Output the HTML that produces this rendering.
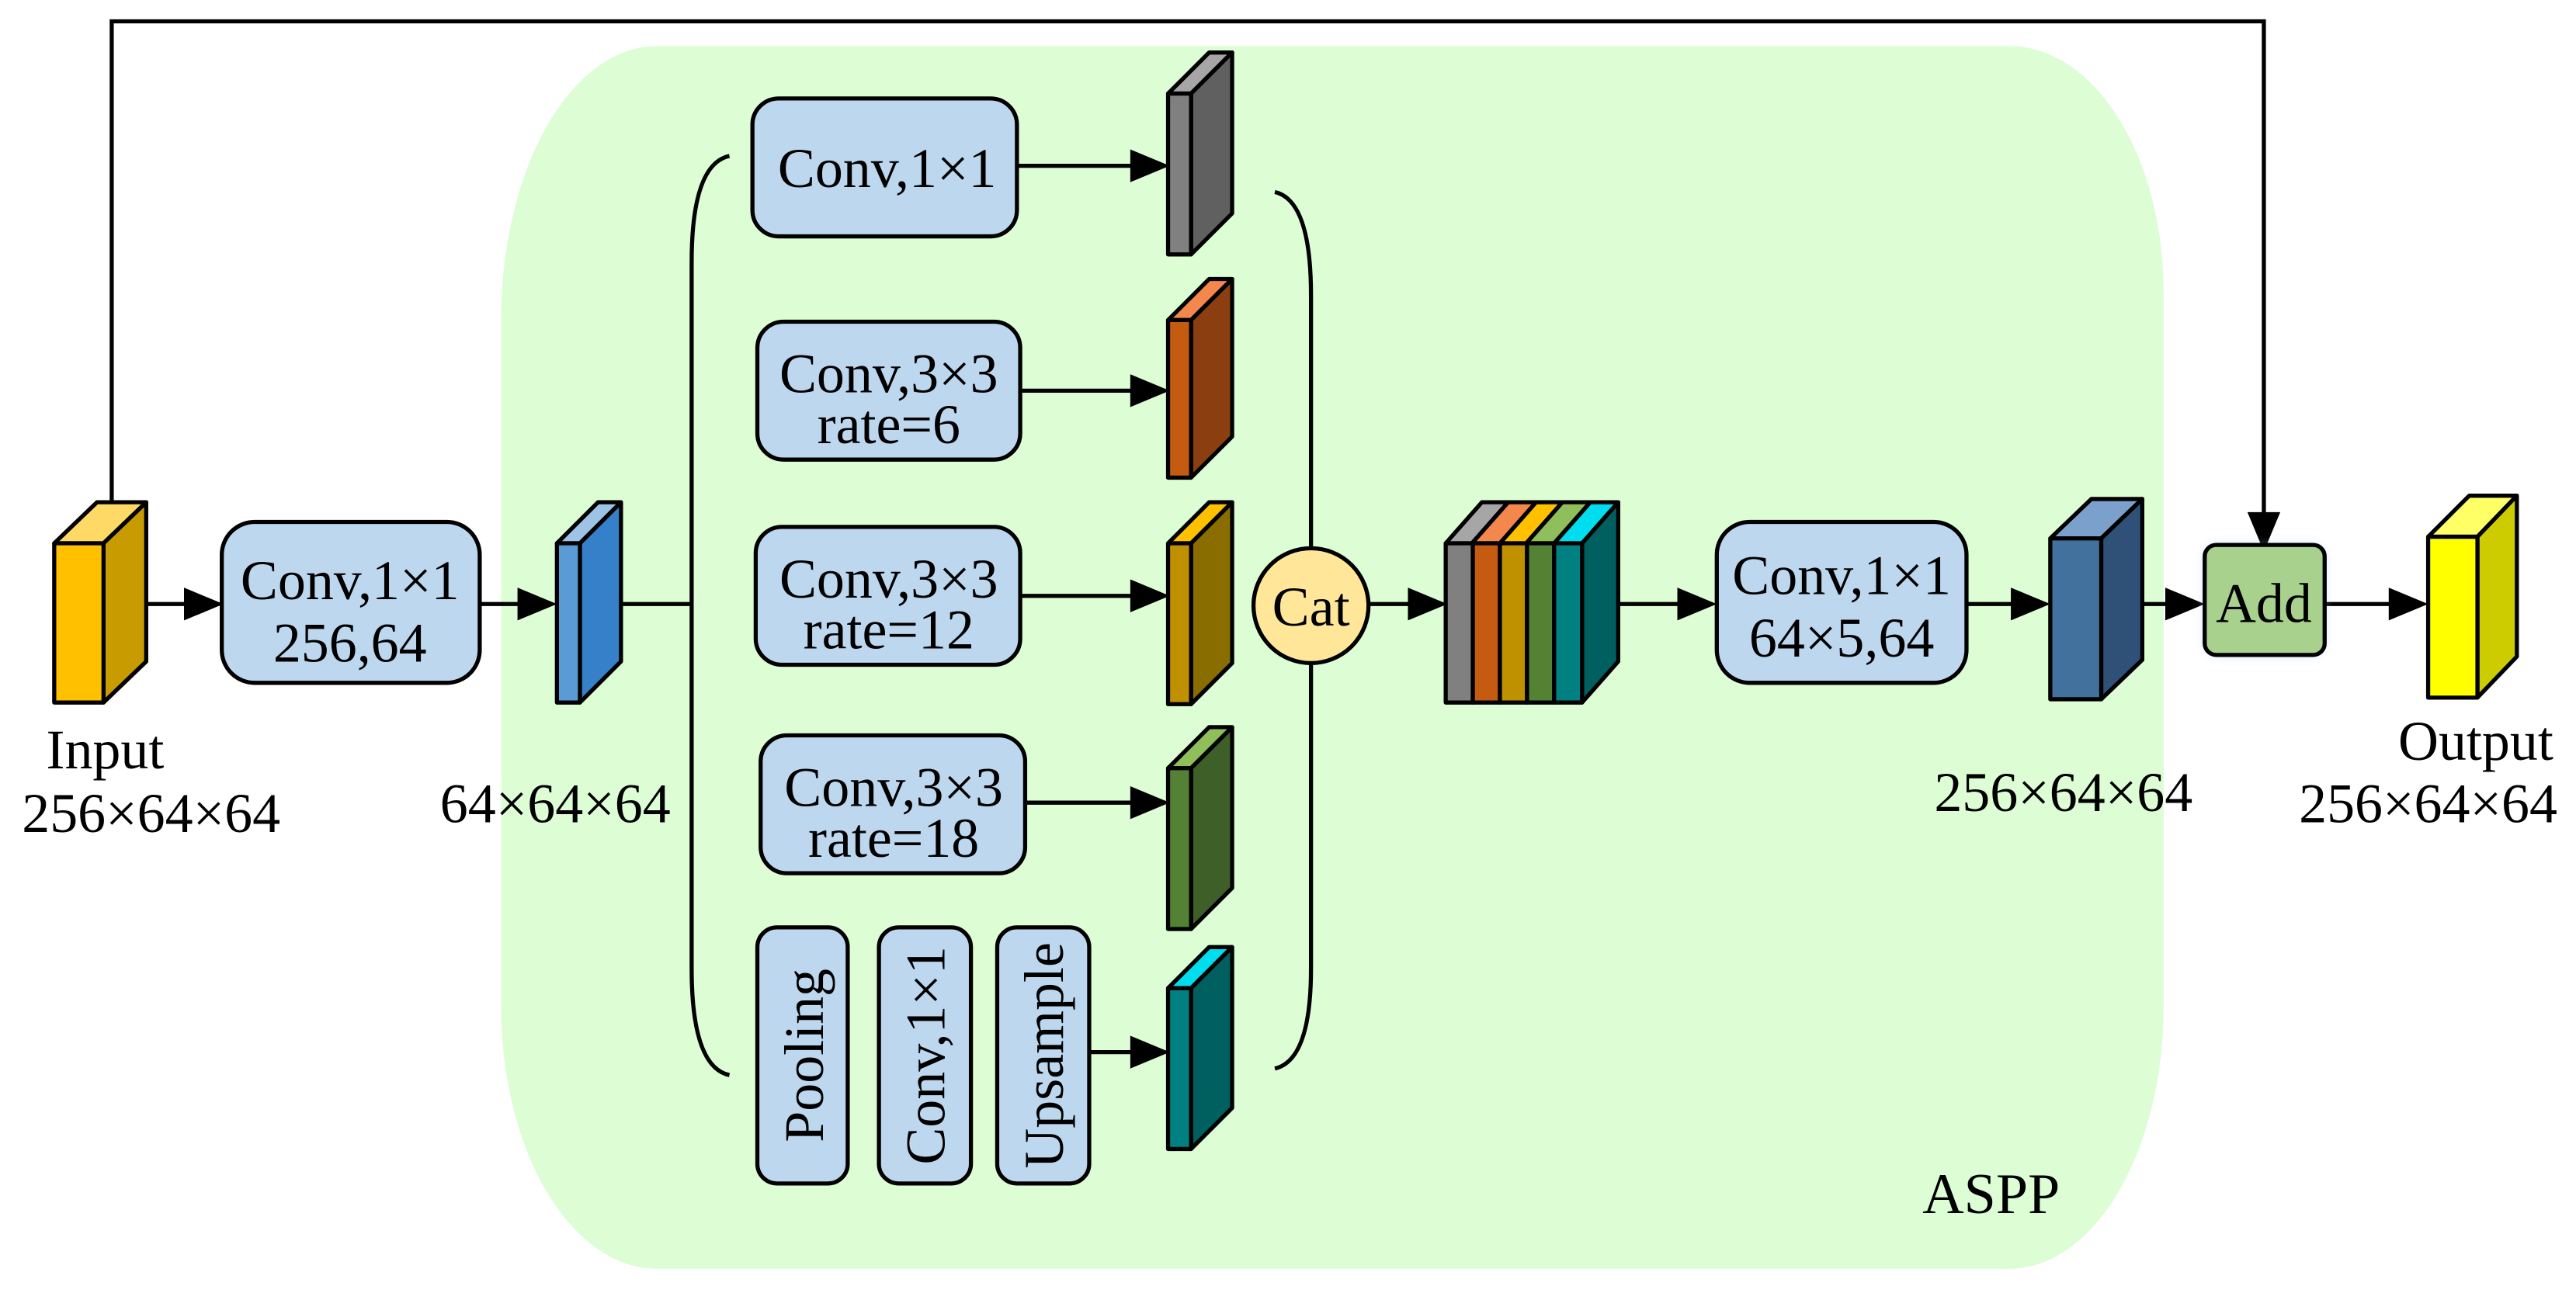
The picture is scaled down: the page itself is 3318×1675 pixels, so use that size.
<!DOCTYPE html>
<html><head><meta charset="utf-8"><style>
html,body{margin:0;padding:0;background:#fff;}
svg{display:block;}
text{font-family:"Liberation Serif","DejaVu Serif",serif;fill:#000;}
</style></head><body>
<svg width="3318" height="1675" viewBox="0 0 1568 792" preserveAspectRatio="none" xmlns="http://www.w3.org/2000/svg">
<defs>
<filter id="glow" x="-30%" y="-30%" width="160%" height="160%"><feGaussianBlur stdDeviation="3"/></filter>
</defs>
<path d="M400,28 L1223,28 A94,150 0 0 1 1317,178 L1317,613 A94,160 0 0 1 1223,773 L400,773 A95,160 0 0 1 305,613 L305,195 A95,167 0 0 1 400,28 Z" fill="#DDFDD5"/>
<polyline points="68,310 68,13 1378,13 1378,315" fill="none" stroke="#000" stroke-width="2.5"/>
<polygon points="1368,312 1388,312 1378,336" fill="#000"/>

<g stroke="#000" stroke-width="2.5" stroke-linejoin="round">
<polygon points="33,331 59,306 89,306 63,331" fill="#FFD966"/>
<polygon points="63,331 89,306 89,403 63,428" fill="#C89B00"/>
<rect x="33" y="331" width="30" height="97" fill="#FFC000"/>
<polygon points="339,331 364,306 378,306 353,331" fill="#9DC3E6"/>
<polygon points="353,331 378,306 378,403 353,428" fill="#3580C8"/>
<rect x="339" y="331" width="14" height="97" fill="#5B9BD5"/>
</g>

<g stroke="#000" stroke-width="2.5" fill="none">
<line x1="89" y1="368" x2="116" y2="368"/>
<line x1="292" y1="368" x2="319" y2="368"/>
<line x1="378" y1="368" x2="421" y2="368"/>
<path d="M444,95 Q421,100 421,160 L421,590 Q421,650 444,655"/>
<path d="M776,117 Q798,122 798,180 L798,590 Q798,646 776,651"/>
<line x1="619" y1="101" x2="692" y2="101"/>
<line x1="621" y1="238" x2="692" y2="238"/>
<line x1="621" y1="363" x2="692" y2="363"/>
<line x1="624" y1="489" x2="692" y2="489"/>
<line x1="663" y1="641" x2="692" y2="641"/>
<line x1="833" y1="368" x2="861" y2="368"/>
<line x1="985" y1="368" x2="1025" y2="368"/>
<line x1="1197" y1="368" x2="1228" y2="368"/>
<line x1="1304" y1="368" x2="1322" y2="368"/>
<line x1="1415" y1="368" x2="1458" y2="368"/>
</g>
<g fill="#000">
<polygon points="112,358 136,368 112,378"/>
<polygon points="315,358 339,368 315,378"/>
<polygon points="688,91 712,101 688,111"/>
<polygon points="688,228 712,238 688,248"/>
<polygon points="688,353 712,363 688,373"/>
<polygon points="688,479 712,489 688,499"/>
<polygon points="688,631 712,641 688,651"/>
<polygon points="857,358 881,368 857,378"/>
<polygon points="1021,358 1045,368 1021,378"/>
<polygon points="1224,358 1248,368 1224,378"/>
<polygon points="1318,358 1342,368 1318,378"/>
<polygon points="1454,358 1478,368 1454,378"/>
</g>

<g stroke="#000" stroke-width="2.5" fill="#BDD7EE">
<rect x="135" y="318" width="157" height="98" rx="20"/>
<rect x="458" y="60" width="161" height="84" rx="16"/>
<rect x="461" y="196" width="160" height="84" rx="16"/>
<rect x="460" y="321" width="161" height="84" rx="16"/>
<rect x="463" y="448" width="161" height="84" rx="16"/>
<rect x="461" y="565" width="55" height="156" rx="12"/>
<rect x="535" y="565" width="56" height="156" rx="12"/>
<rect x="607" y="565" width="56" height="156" rx="12"/>
<rect x="1045" y="318" width="152" height="98" rx="20"/>
</g>
<rect x="1342" y="332" width="73" height="67" rx="8" fill="#9EC3F0" opacity="0.5" filter="url(#glow)"/>
<rect x="1342" y="332" width="73" height="67" rx="7" fill="#A9D18E" stroke="#000" stroke-width="2.5"/>
<circle cx="798" cy="369" r="35" fill="#FFE699" stroke="#000" stroke-width="2.5"/>

<g stroke="#000" stroke-width="2.5" stroke-linejoin="round">
<polygon points="711,57 736,32 750,32 725,57" fill="#A6A6A6"/>
<polygon points="725,57 750,32 750,130 725,155" fill="#606060"/>
<rect x="711" y="57" width="14" height="98" fill="#808080"/>
<polygon points="711,195 736,170 750,170 725,195" fill="#F4874B"/>
<polygon points="725,195 750,170 750,266 725,291" fill="#8B3E10"/>
<rect x="711" y="195" width="14" height="96" fill="#C55A11"/>
<polygon points="711,331 736,306 750,306 725,331" fill="#FFC000"/>
<polygon points="725,331 750,306 750,404 725,429" fill="#8A6D00"/>
<rect x="711" y="331" width="14" height="98" fill="#BF9000"/>
<polygon points="711,468 736,443 750,443 725,468" fill="#8FBF5A"/>
<polygon points="725,468 750,443 750,541 725,566" fill="#3F5F28"/>
<rect x="711" y="468" width="14" height="98" fill="#548235"/>
<polygon points="711,602 736,577 750,577 725,602" fill="#00DDEE"/>
<polygon points="725,602 750,577 750,675 725,700" fill="#005F5F"/>
<rect x="711" y="602" width="14" height="98" fill="#008080"/>

<polygon points="880,331 902,306 918,306 896,331" fill="#A6A6A6"/>
<polygon points="896,331 918,306 935,306 913,331" fill="#F4874B"/>
<polygon points="913,331 935,306 951,306 929,331" fill="#FFC000"/>
<polygon points="929,331 951,306 968,306 946,331" fill="#8FBF5A"/>
<polygon points="946,331 968,306 985,306 963,331" fill="#00DDEE"/>
<polygon points="963,331 985,306 985,403 963,428" fill="#005F5F"/>
<rect x="880" y="331" width="16.5" height="97" fill="#808080"/>
<rect x="896.5" y="331" width="16.5" height="97" fill="#C55A11"/>
<rect x="913" y="331" width="16.5" height="97" fill="#BF9000"/>
<rect x="929.5" y="331" width="16.5" height="97" fill="#548235"/>
<rect x="946" y="331" width="17" height="97" fill="#008080"/>

<polygon points="1248,328 1273,304 1304,304 1279,328" fill="#7BA0CB"/>
<polygon points="1279,328 1304,304 1304,402 1279,426" fill="#2F5077"/>
<rect x="1248" y="328" width="31" height="98" fill="#41719C"/>

<polygon points="1478,327 1503,302 1532,302 1508,327" fill="#FFFF66"/>
<polygon points="1508,327 1532,302 1532,400 1508,425" fill="#CCCC00"/>
<rect x="1478" y="327" width="30" height="98" fill="#FFFF00"/>
</g>

<g font-size="34" text-anchor="middle">
<text x="213" y="365">Conv,1×1</text>
<text x="213" y="403">256,64</text>
<text x="540" y="114">Conv,1×1</text>
<text x="541" y="239">Conv,3×3</text>
<text x="541" y="270">rate=6</text>
<text x="541" y="364">Conv,3×3</text>
<text x="541" y="395">rate=12</text>
<text x="544" y="491">Conv,3×3</text>
<text x="544" y="522">rate=18</text>
<text transform="translate(501,643) rotate(-90)">Pooling</text>
<text transform="translate(575,643) rotate(-90)">Conv,1×1</text>
<text transform="translate(647,643) rotate(-90)">Upsample</text>
<text x="798" y="381">Cat</text>
<text x="1121" y="362">Conv,1×1</text>
<text x="1121" y="400">64×5,64</text>
<text x="1378" y="379">Add</text>
<text x="64" y="468">Input</text>
<text x="92" y="507">256×64×64</text>
<text x="338" y="501">64×64×64</text>
<text x="1256" y="494">256×64×64</text>
<text x="1507" y="463">Output</text>
<text x="1478" y="501">256×64×64</text>
<text x="1212" y="739" font-size="35">ASPP</text>
</g>
</svg>
</body></html>
